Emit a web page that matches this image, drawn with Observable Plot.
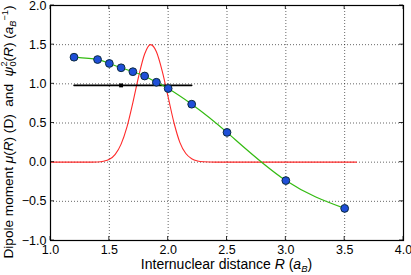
<!DOCTYPE html>
<html>
<head>
<meta charset="utf-8">
<script src="https://cdn.jsdelivr.net/npm/d3@7"></script>
<script src="https://cdn.jsdelivr.net/npm/@observablehq/plot@0.6"></script>
<style>
  html, body { margin: 0; padding: 0; background: #fff; }
  #chart svg { display: block; }
</style>
</head>
<body>
<div id="chart"></div>
<script>
// Dipole moment data points
const R_pts = [1.2, 1.4, 1.5, 1.6, 1.7, 1.8, 1.9, 2.0, 2.2, 2.5, 3.0, 3.5];
const mu_pts = [1.34, 1.31, 1.26, 1.205, 1.155, 1.10, 1.02, 0.94, 0.74, 0.38, -0.235, -0.59];

// Vibrational ground-state density psi0^2(R)
const psi_R = [1.0, 1.3, 1.4, 1.45, 1.5, 1.55, 1.6, 1.65, 1.7, 1.75, 1.8, 1.85, 1.9, 1.95, 2.0, 2.05, 2.1, 2.15, 2.2, 2.25, 2.3, 2.4, 2.6, 3.6];
const psi_V = [0.0, 0.0, 0.003, 0.012, 0.036, 0.10, 0.23, 0.45, 0.76, 1.10, 1.38, 1.50, 1.41, 1.16, 0.83, 0.50, 0.25, 0.11, 0.044, 0.015, 0.005, 0.0, 0.0, 0.0];

// Averaged dipole moment
const avg_R = [1.2, 2.2];
const avg_mu = [0.98, 0.98];
const avg_marker_R = [1.6];
const avg_marker_mu = [0.98];

const xTicks = [1.0, 1.5, 2.0, 2.5, 3.0, 3.5, 4.0];
const yTicks = [-1.0, -0.5, 0.0, 0.5, 1.0, 1.5, 2.0];

const muData = R_pts.map((r, i) => ({r, v: mu_pts[i]}));
const psiData = psi_R.map((r, i) => ({r, v: psi_V[i]}));
const avgData = avg_R.map((r, i) => ({r, v: avg_mu[i]}));
const markData = avg_marker_R.map((r, i) => ({r, v: avg_marker_mu[i]}));

const font = "'Liberation Sans', Arial, Helvetica, sans-serif";

const chart = Plot.plot({
  width: 411,
  height: 275,
  marginLeft: 50,
  marginRight: 8,
  marginTop: 5,
  marginBottom: 35,
  style: {fontFamily: font, fontSize: "12px", background: "#fff", color: "#000"},
  x: {domain: [1, 4], ticks: xTicks, tickFormat: d3.format(".1f")},
  y: {domain: [-1, 2], ticks: yTicks, tickFormat: d3.format(".1f")},
  marks: [
    Plot.gridX(xTicks, {stroke: "#000", strokeOpacity: 0.75, strokeWidth: 0.8, strokeDasharray: "1,2"}),
    Plot.gridY(yTicks, {stroke: "#000", strokeOpacity: 0.75, strokeWidth: 0.8, strokeDasharray: "1,2"}),
    Plot.axisX(xTicks, {tickSize: 0, tickPadding: 5, fontSize: 12.5, label: null, tickFormat: d3.format(".1f")}),
    Plot.axisY(yTicks, {tickSize: 0, tickPadding: 4, fontSize: 12.5, label: null, tickFormat: d3.format(".1f")}),
    Plot.line(psiData, {x: "r", y: "v", stroke: "#ff2a2a", strokeWidth: 1.1, curve: "monotone-x"}),
    Plot.line(avgData, {x: "r", y: "v", stroke: "#000", strokeWidth: 1.6}),
    Plot.dot(markData, {x: "r", y: "v", symbol: "square", r: 2.2, fill: "#000", stroke: "none"}),
    Plot.line(muData, {x: "r", y: "v", stroke: "#33bb11", strokeWidth: 1.2, curve: "natural"}),
    Plot.dot(muData, {x: "r", y: "v", r: 3.9, fill: "#1f4fd8", stroke: "#0b2b40", strokeWidth: 1}),
    Plot.frame({stroke: "#000", strokeWidth: 1.2})
  ]
});

document.getElementById("chart").appendChild(chart);

// Inward ticks on all four sides and rich-text axis labels
const svg = d3.select(chart);
const xs = chart.scale("x"), ys = chart.scale("y");
const pLeft = 50, pRight = 411 - 8, pTop = 5, pBottom = 275 - 35;
const tg = svg.append("g").attr("stroke", "#000").attr("stroke-width", 0.8);
xTicks.forEach(t => {
  const px = xs.apply(t);
  tg.append("line").attr("x1", px).attr("x2", px).attr("y1", pBottom).attr("y2", pBottom - 4);
  tg.append("line").attr("x1", px).attr("x2", px).attr("y1", pTop).attr("y2", pTop + 4);
});
yTicks.forEach(t => {
  const py = ys.apply(t);
  tg.append("line").attr("x1", pLeft).attr("x2", pLeft + 4).attr("y1", py).attr("y2", py);
  tg.append("line").attr("x1", pRight).attr("x2", pRight - 4).attr("y1", py).attr("y2", py);
});

// X label
const xl = svg.append("text")
  .attr("x", (pLeft + pRight) / 2).attr("y", 269)
  .attr("text-anchor", "middle").attr("font-size", 14).attr("font-family", font).attr("fill", "#000")
  .style("white-space", "pre");
xl.append("tspan").text("Internuclear distance ");
xl.append("tspan").attr("font-style", "italic").text("R");
xl.append("tspan").text(" (");
xl.append("tspan").attr("font-style", "italic").text("a");
xl.append("tspan").attr("font-style", "italic").attr("font-size", 9.5).attr("dy", 3).text("B");
xl.append("tspan").attr("dy", -3).text(")");

// Y label
const yl = svg.append("text")
  .attr("transform", `translate(12.5,${132}) rotate(-90)`)
  .attr("text-anchor", "middle").attr("font-size", 13.6).attr("font-family", font).attr("fill", "#000")
  .style("white-space", "pre");
yl.append("tspan").text("Dipole moment ");
yl.append("tspan").attr("font-style", "italic").text("μ");
yl.append("tspan").text("(");
yl.append("tspan").attr("font-style", "italic").text("R");
yl.append("tspan").text(") (D)  and  ");
yl.append("tspan").attr("font-style", "italic").text("ψ");
yl.append("tspan").attr("font-size", 9.2).attr("dy", 3).text("0");
yl.append("tspan").attr("font-size", 9.2).attr("dx", -5.1).attr("dy", -8.5).text("2");
yl.append("tspan").attr("dy", 5.5).text("(");
yl.append("tspan").attr("font-style", "italic").text("R");
yl.append("tspan").text(") (");
yl.append("tspan").attr("font-style", "italic").text("a");
yl.append("tspan").attr("font-style", "italic").attr("font-size", 9.2).attr("dy", 3).text("B");
yl.append("tspan").attr("font-size", 9.2).attr("dy", -8).text("−1");
yl.append("tspan").attr("dy", 5).text(")");
</script>
</body>
</html>
